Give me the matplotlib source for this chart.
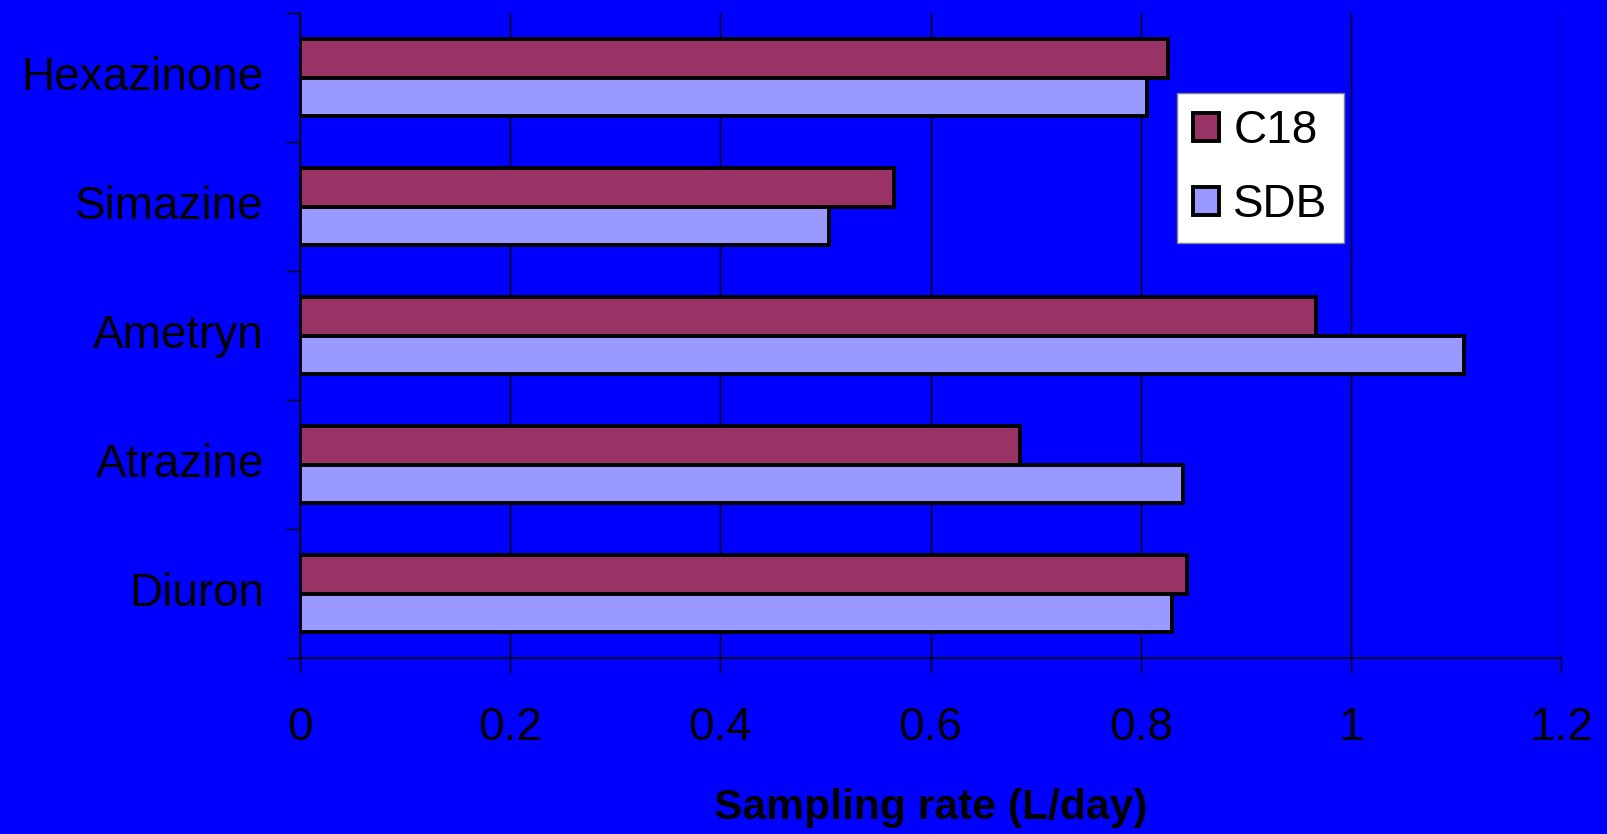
import matplotlib
matplotlib.use('Agg')
import matplotlib.pyplot as plt
import numpy as np

# data
compounds = ['Diuron', 'Atrazine', 'Ametryn', 'Simazine', 'Hexazinone']
c18 = [0.844, 0.685, 0.967, 0.565, 0.826]
sdb = [0.830, 0.840, 1.108, 0.503, 0.806]
xticks = [0, 0.2, 0.4, 0.6, 0.8, 1, 1.2]
xtick_labels = ['0', '0.2', '0.4', '0.6', '0.8', '1', '1.2']

plt.rcParams['font.family'] = ['Liberation Sans', 'DejaVu Sans']

blue = '#0000FF'
fig = plt.figure(figsize=(16.08, 8.34), dpi=100, facecolor=blue)
ax = fig.add_axes([0.1866, 0.211, 0.7842, 0.7734], facecolor=blue)

y = np.arange(len(compounds))
h = 0.295
ax.barh(y + h / 2, c18, height=h, color='#993366', edgecolor='black',
        linewidth=2.8, label='C18', zorder=3)
ax.barh(y - h / 2, sdb, height=h, color='#9999FF', edgecolor='black',
        linewidth=2.8, label='SDB', zorder=3)

ax.set_xlim(0, 1.2)
ax.set_ylim(-0.5, len(compounds) - 0.5)

ax.set_xticks(xticks)
ax.set_xticklabels(xtick_labels, fontsize=33)
ax.set_yticks(y)
ax.set_yticklabels(compounds, fontsize=33, va='center')
ax.set_yticks(np.arange(-0.5, len(compounds)), minor=True)

ax.tick_params(axis='y', which='major', length=0, pad=26)
ax.tick_params(axis='y', which='minor', length=10, width=1, color='black',
               direction='out')
ax.tick_params(axis='x', length=11, width=1, color='black', pad=23.5,
               direction='out')

ax.grid(axis='x', color='black', linewidth=1, zorder=1)
for s in ['top', 'right']:
    ax.spines[s].set_visible(False)
for s in ['left', 'bottom']:
    ax.spines[s].set_color('black')
    ax.spines[s].set_linewidth(1.2)

ax.set_xlabel('Sampling rate (L/day)', fontsize=30.7, fontweight='bold',
              labelpad=27.5)

leg = fig.legend(loc='upper left', bbox_to_anchor=(0.732, 0.8885),
                 fontsize=33, frameon=True, fancybox=False, borderaxespad=0,
                 handlelength=0.56, handleheight=0.56, handletextpad=0.32,
                 labelspacing=0.66, borderpad=0.35)
leg.get_frame().set_facecolor('white')
leg.get_frame().set_edgecolor('#808080')
leg.get_frame().set_linewidth(1)
leg.get_frame().set_alpha(1)
for p in leg.get_patches():
    p.set_linewidth(2.8)

fig.savefig('out.png', dpi=100, facecolor=blue)
